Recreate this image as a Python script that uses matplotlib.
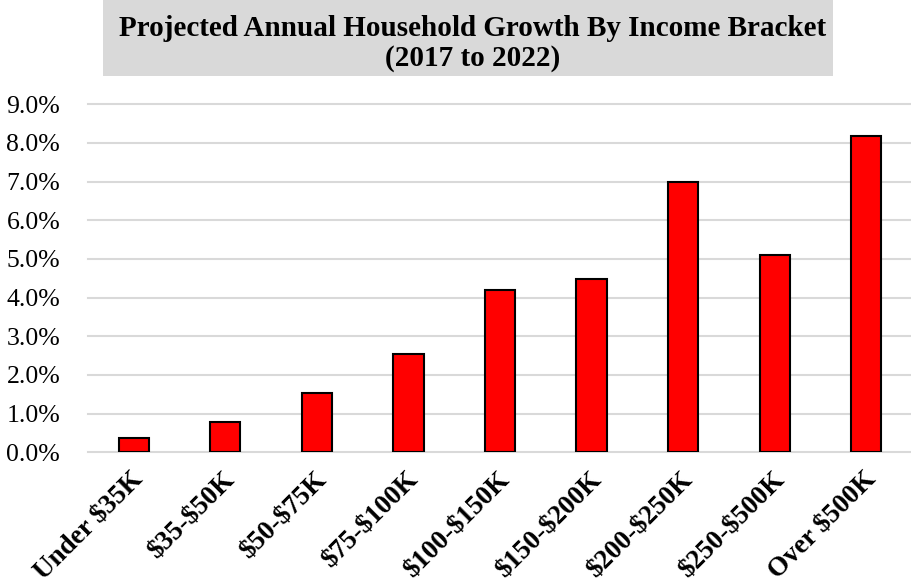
import matplotlib
matplotlib.use("Agg")
import matplotlib.pyplot as plt
from matplotlib.patches import Rectangle
from matplotlib.ticker import FuncFormatter, MultipleLocator
from matplotlib.transforms import ScaledTranslation

categories = ["Under $35K", "$35-$50K", "$50-$75K", "$75-$100K", "$100-$150K",
              "$150-$200K", "$200-$250K", "$250-$500K", "Over $500K"]
growth = [0.0038, 0.0078, 0.0153, 0.0254, 0.0420, 0.0448, 0.0700, 0.0511, 0.0819]
title_lines = ["Projected Annual Household Growth By Income Bracket", "(2017 to 2022)"]

plt.rcParams["font.family"] = ["Liberation Serif", "DejaVu Serif"]
plt.rcParams["text.parse_math"] = False

W, H = 912, 585
fig = plt.figure(figsize=(W / 100, H / 100), dpi=100)
ax = fig.add_axes([88 / W, 1 - 452.3 / H, (912 - 88) / W, (452.3 - 104.3) / H])

x = list(range(len(categories)))
ax.bar(x, growth, width=0.33, color="#ff0000", edgecolor="black", linewidth=1.5, zorder=3)

ax.set_xlim(-0.5, len(categories) - 0.5)
ax.set_ylim(0, 0.09)
ax.yaxis.set_major_locator(MultipleLocator(0.01))
ax.yaxis.set_major_formatter(FuncFormatter(lambda v, _: f"{v * 100:.1f}%"))
ax.grid(axis="y", color="#d9d9d9", linewidth=1.5, zorder=0)
ax.set_axisbelow(True)
for s in ax.spines.values():
    s.set_visible(False)
ax.tick_params(axis="both", length=0)
ax.tick_params(axis="y", labelsize=18.5, pad=20)
for gl in ax.get_ygridlines():
    gl.set_clip_on(False)

ax.set_xticks(x)
ax.set_xticklabels(categories, rotation=45, ha="right", va="top",
                   rotation_mode="anchor", fontsize=19.5, fontweight="bold")
offset = ScaledTranslation(-3 / 100, -10 / 100, fig.dpi_scale_trans)
for lbl in ax.get_xticklabels():
    lbl.set_transform(lbl.get_transform() + offset)

# Grey title banner
fig.patches.append(Rectangle((103 / W, 1 - 76 / H), (833 - 103) / W, 76 / H,
                             transform=fig.transFigure, facecolor="#d9d9d9",
                             edgecolor="none", zorder=0))
fig.text(473 / W, 1 - 29 / H, title_lines[0], ha="center", va="center",
         fontsize=21, fontweight="bold")
fig.text(473 / W, 1 - 58 / H, title_lines[1], ha="center", va="center",
         fontsize=21, fontweight="bold")

fig.savefig("out.png", dpi=100, facecolor="white")
